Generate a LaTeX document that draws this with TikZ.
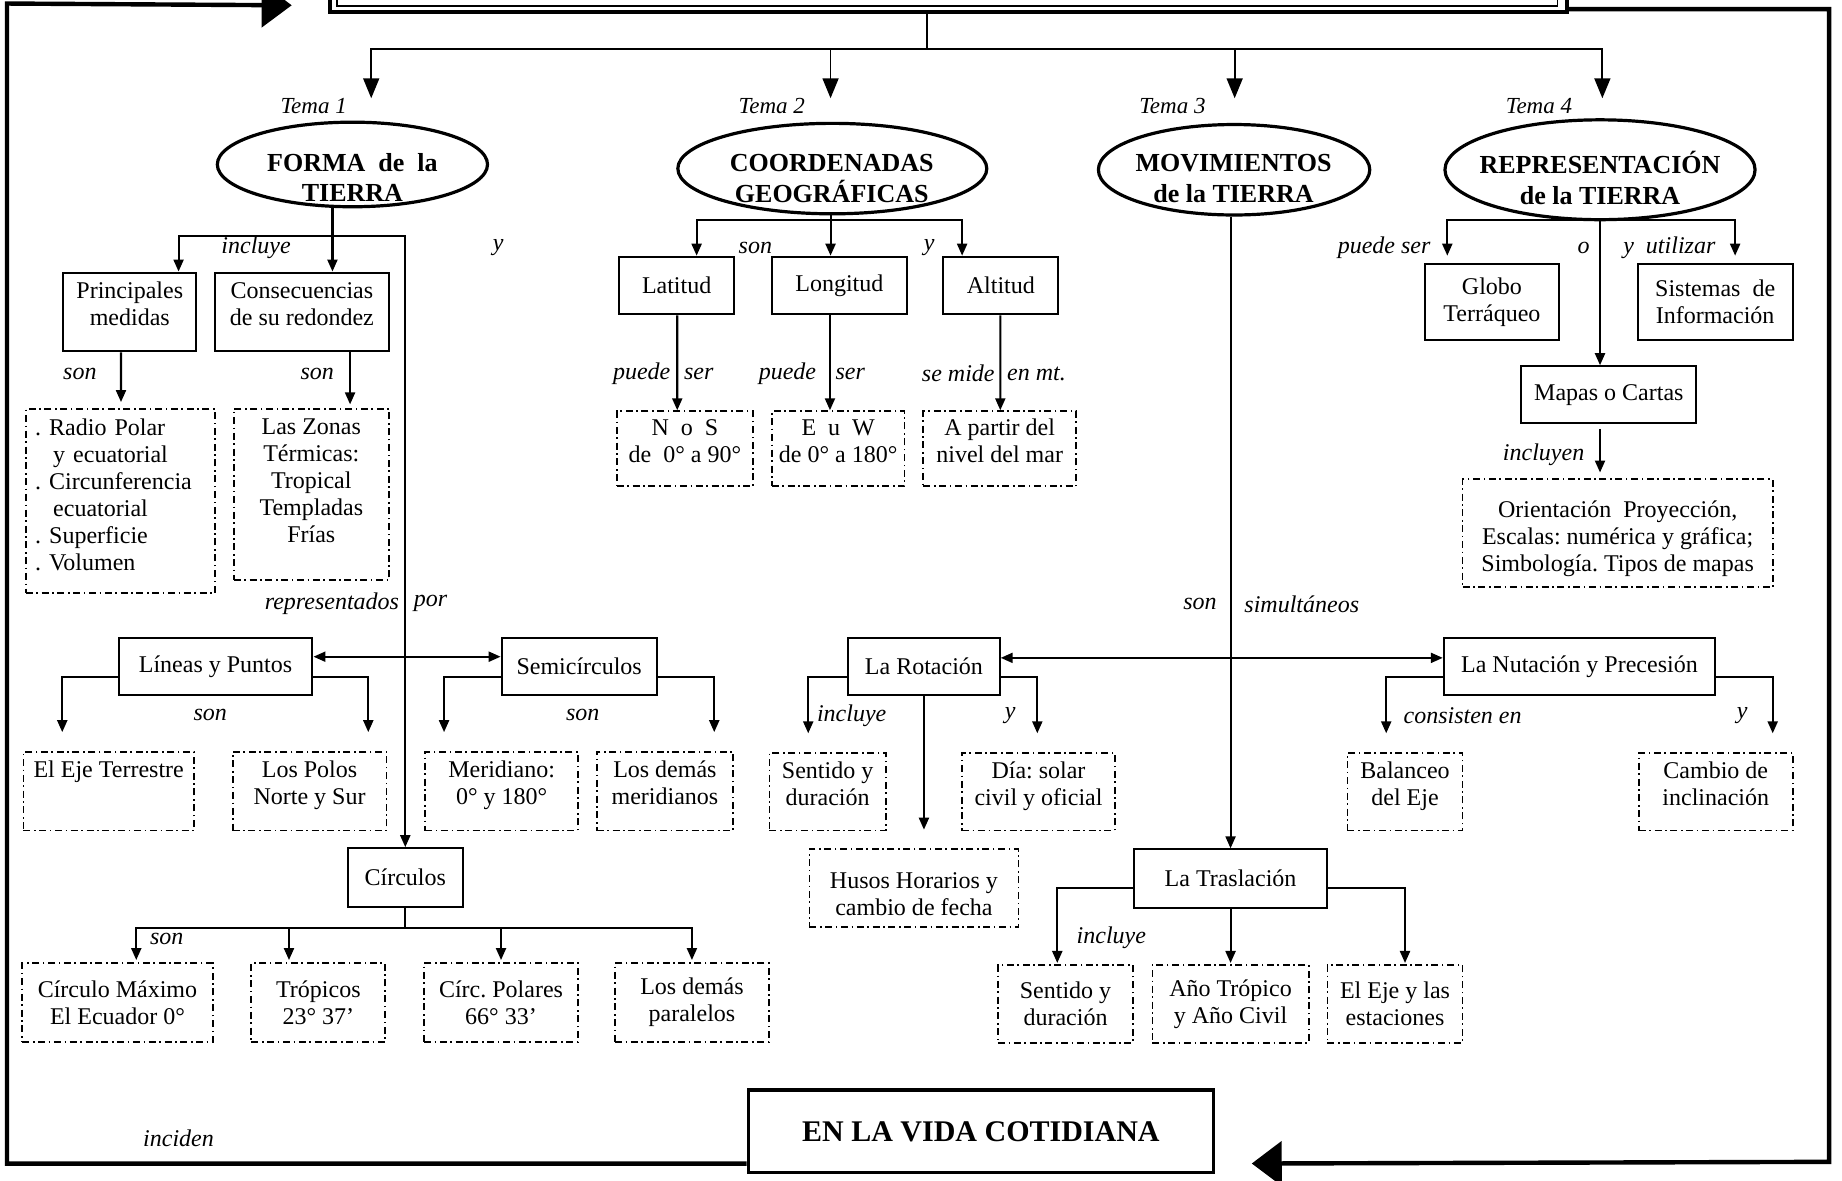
\documentclass[tikz,border=0pt]{standalone}
\usepackage{fontspec}
\setmainfont{Liberation Serif}
\usetikzlibrary{arrows.meta,shapes.geometric,calc}
\newcommand\pxu{0.58735pt}
% an empty last line lifts a text block inside its frame
\newcommand\liftup[1][-5.3pt]{\\[#1]\mbox{}}
\frenchspacing
\begin{document}
\begin{tikzpicture}[
  x=0.58735pt, y=-0.58735pt,
  line join=miter,
  sz/.style 2 args={minimum width={#1*\pxu}, minimum height={#2*\pxu}},
  cbox/.style={draw, line width=1pt, rectangle, align=center, inner sep=1pt,
               font=\fontsize{12}{13.5}\selectfont},
  dbox/.style={cbox, line width=0.9pt, dash pattern=on 3.5pt off 1.8pt on 0.8pt off 1.8pt},
  oval/.style={ellipse, draw, line width=1.6pt, inner sep=0pt},
  ovaltext/.style={align=center, inner sep=0pt, font=\fontsize{13}{15.3}\selectfont\bfseries},
  lbl/.style={inner sep=0pt, font=\fontsize{12}{14}\selectfont\itshape},
  tlbl/.style={inner sep=0pt, font=\fontsize{11.5}{14}\selectfont\itshape},
  conn/.style={line width=1.05pt},
  arr/.style={conn, -{Triangle[length=6pt,width=5pt]}},
  dblarr/.style={conn, {Triangle[length=6pt,width=5pt]}-{Triangle[length=6pt,width=5pt]}},
  tarr/.style={line width=0.9pt, -{Triangle[length=10pt,width=8pt]}},
  gap/.style={shorten >={#1*\pxu}},
  loopline/.style={line width=2.2pt, -{Triangle[length=15pt,width=22pt]}},
]
\useasboundingbox (0,0) rectangle (1568,1005);

% ---------- title frame (runs off the top edge) ----------
\node[draw, line width=2pt, inner sep=0pt, sz={1053}{50}] (title) at (807.5,-15) {};
\draw[line width=0.8pt] ($(title.south west)+(7.5,-6.5)$) rectangle ($(title.north east)+(-10,6.5)$);

% ---------- the four themes ----------
\node[tlbl] (tema1) at (267,90) {Tema 1};
\node[tlbl] (tema2) at (657,90) {Tema 2};
\node[tlbl] (tema3) at (998,90) {Tema 3};
\node[tlbl] (tema4) at (1310,90) {Tema 4};

\node[oval, sz={230}{72}] (forma) at (300,140) {};
\node[ovaltext] (formatxt) at (300,151) {FORMA\ \ de\ \ la\\TIERRA};
\node[oval, sz={263}{77}] (coord) at (708.5,143.5) {};
\node[ovaltext] (coordtxt) at (708,152) {COORDENADAS\\GEOGRÁFICAS};
\node[oval, sz={231}{77}] (mov) at (1050.5,144.5) {};
\node[ovaltext] (movtxt) at (1050,152) {MOVIMIENTOS\\de la TIERRA};
\node[oval, sz={264}{85}] (rep) at (1362,144.5) {};
\node[ovaltext] (reptxt) at (1362,151.5) {REPRESENTACIÓN\\de la TIERRA};

\draw[line width=0.9pt] ($(title.south)+(-18.5,0)$) -- ++(0,30) coordinate (hub);
\draw[tarr, gap=19] (hub) -| ($(forma.north)+(16,0)$);
\draw[tarr, gap=20] (hub) -| ($(coord.north)+(-1.5,0)$);
\draw[tarr, gap=21] (hub) -| ($(mov.north)+(0.5,0)$);
\draw[tarr, gap=17] (hub) -| ($(rep.north)+(2,0)$);

% ---------- Tema 1: forma de la Tierra ----------
\node[cbox, sz={113}{67}] (ppal) at (110.5,265.5) {Principales\\medidas\liftup};
\node[cbox, sz={148}{67}] (cons) at (257,265.5) {Consecuencias\\de su redondez\liftup};
\node[dbox, sz={161}{157}, text width={145*\pxu}, inner xsep={8*\pxu}, align=left] (radio) at (102.5,426.5)
  {. Radio Polar\\\hspace*{0.75em}y ecuatorial\\. Circunferencia\\\hspace*{0.75em}ecuatorial\\. Superficie\\. Volumen\liftup[-7pt]};
\node[dbox, sz={132}{146}] (zonas) at (265,421) {Las Zonas\\Térmicas:\\Tropical\\Templadas\\Frías\liftup[0pt]};

\node[cbox, sz={165}{49}] (lyp) at (183.5,567.5) {Líneas y Puntos};
\node[cbox, sz={132}{49}] (semi) at (493,567.5) {Semicírculos};
\node[dbox, sz={145}{67}] (eje) at (92.5,673.5) {El Eje Terrestre\\\phantom{Norte}\liftup};
\node[dbox, sz={131}{67}] (polos) at (263.5,673.5) {Los Polos\\Norte y Sur\liftup};
\node[dbox, sz={130}{67}] (merid) at (427,673.5) {Meridiano:\\0° y 180°\liftup};
\node[dbox, sz={116}{67}] (demasm) at (566,673.5) {Los demás\\meridianos\liftup};

\node[cbox, sz={98}{50}] (circ) at (345,747) {Círculos};
\node[dbox, sz={162}{67}] (cmax) at (100,853.5) {Círculo Máximo\\El Ecuador 0°};
\node[dbox, sz={114}{67}] (trop) at (271,853.5) {Trópicos\\23° 37'};
\node[dbox, sz={131}{67}] (cpol) at (426.5,853.5) {Círc. Polares\\66° 33'};
\node[dbox, sz={131}{67}] (demasp) at (589,853.5) {Los demás\\paralelos};

\draw[arr] ($(forma.south)+(-17,0)$) -- ($(cons.north)+(26,0)$);
\draw[dblarr] ($(ppal.north)+(41.5,0)$) |- ($(circ.north)+(0,-520)$) -- (circ.north);
\draw[arr, gap=5] ($(ppal.south)+(-7.5,0)$) -- ($(radio.north)+(0.5,0)$);
\draw[arr, gap=3] ($(cons.south)+(41,0)$) -- ($(zonas.north)+(33,0)$);
\draw[dblarr] ($(lyp.east)+(0,-8.5)$) -- ($(semi.west)+(0,-8.5)$);
\draw[arr, gap=16] ($(lyp.west)+(0,8.5)$) -| ($(eje.north)+(-39.5,0)$);
\draw[arr, gap=16] ($(lyp.east)+(0,8.5)$) -| ($(polos.north)+(50,0)$);
\draw[arr, gap=16] ($(semi.west)+(0,8.5)$) -| ($(merid.north)+(-49,0)$);
\draw[arr, gap=16] ($(semi.east)+(0,8.5)$) -| ($(demasm.north)+(42,0)$);
\draw[conn] (circ.south) -- ++(0,17) coordinate (cbar);
\draw[arr, gap=2] (cbar) -| ($(cmax.north)+(16,0)$);
\draw[arr, gap=2] (cbar) -| ($(trop.north)+(-25,0)$);
\draw[arr, gap=2] (cbar) -| (cpol.north);
\draw[arr, gap=2] (cbar) -| (demasp.north);

\node[lbl] (l-incl1) at (218,211) {incluye};
\node[lbl] (l-y1) at (424,211) {y};
\node[lbl] (l-son1) at (68,318) {son};
\node[lbl] (l-son2) at (270,318) {son};
\node[lbl, anchor=east] (l-repr) at (340,514) {representados};
\node[lbl, anchor=west] (l-por) at (352,514) {por};
\node[lbl] (l-son3) at (179,609) {son};
\node[lbl] (l-son4) at (496,609) {son};
\node[lbl] (l-son5) at (142,799) {son};

% ---------- Tema 2: coordenadas geograficas ----------
\node[cbox, sz={98}{49}] (lat) at (576,243) {Latitud};
\node[cbox, sz={115}{49}] (lon) at (714.5,243) {Longitud};
\node[cbox, sz={98}{49}] (alt) at (852,243) {Altitud};
\node[dbox, sz={116}{64}] (ns) at (583,382) {N\ \ o\ \ S\\de\ \ 0° a 90°\liftup[-5.8pt]};
\node[dbox, sz={113}{64}] (ew) at (713.5,382) {E\ \ u\ \ W\\de 0° a 180°\liftup[-5.8pt]};
\node[dbox, sz={130}{64}] (nivel) at (851,382) {A partir del\\nivel del mar\liftup[-5.8pt]};

\draw[arr] ($(coord.south)+(-1.5,0)$) -- ($(lon.north)+(-7.5,0)$);
\draw[arr] ($(coord.south)+(-1.5,4)$) -| ($(lat.north)+(17,0)$);
\draw[arr] ($(coord.south)+(-1.5,4)$) -| ($(alt.north)+(-33,0)$);
\draw[arr] ($(lat.south)+(0.5,0)$) -- ($(ns.north)+(-6.5,0)$);
\draw[arr] ($(lon.south)+(-8,0)$) -- ($(ew.north)+(-7,0)$);
\draw[arr] ($(alt.south)+(-0.5,0)$) -- ($(nivel.north)+(0.5,0)$);

\node[lbl] (l-son6) at (643,211) {son};
\node[lbl] (l-y2) at (791,211) {y};
\node[lbl, anchor=east] (l-pu1) at (571,318) {puede};
\node[lbl, anchor=west] (l-se1) at (582,318) {ser};
\node[lbl, anchor=east] (l-pu2) at (695,318) {puede};
\node[lbl, anchor=west] (l-se2) at (711,318) {ser};
\node[lbl, anchor=east] (l-mide) at (847,318) {se mide};
\node[lbl, anchor=west] (l-mt) at (857,318) {en mt.};

% ---------- Tema 3: movimientos de la Tierra ----------
\node[cbox, sz={129}{49}] (rot) at (786.5,567.5) {La Rotación};
\node[cbox, sz={231}{49}] (nut) at (1344.5,567.5) {La Nutación y Precesión};
\node[dbox, sz={99}{66}] (sent1) at (704.5,674) {Sentido y\\duración\liftup};
\node[dbox, sz={130}{66}] (dia) at (884,674) {Día: solar\\civil y oficial\liftup};
\node[dbox, sz={178}{66}] (husos) at (778,756) {\mbox{}\\Husos Horarios y\\cambio de fecha};
\node[dbox, sz={98}{66}] (bal) at (1196,674) {Balanceo\\del Eje\liftup};
\node[dbox, sz={131}{66}] (camb) at (1460.5,674) {Cambio de\\inclinación\liftup};
\node[cbox, sz={165}{50}] (tras) at (1047.5,748) {La Traslación};
\node[dbox, sz={115}{66}] (sent2) at (907,854.5) {Sentido y\\duración};
\node[dbox, sz={133}{66}] (anio) at (1047.5,854.5) {Año Trópico\\y Año Civil};
\node[dbox, sz={115}{66}] (ejeest) at (1187.5,854.5) {El Eje y las\\estaciones};

\draw[arr] ($(mov.south)+(-3,0)$) -- (tras.north);
\draw[dblarr] ($(rot.east)+(0,-7.5)$) -- ($(nut.west)+(0,-7.5)$);
\draw[arr, gap=16] ($(rot.west)+(0,8.5)$) -| ($(sent1.north)+(-16.5,0)$);
\draw[arr, gap=16] (rot.south) -- ($(husos.north)+(8.5,0)$);
\draw[arr, gap=16] ($(rot.east)+(0,8.5)$) -| ($(dia.north)+(-1,0)$);
\draw[arr, gap=16] ($(nut.west)+(0,8.5)$) -| ($(bal.north)+(-16,0)$);
\draw[arr, gap=16] ($(nut.east)+(0,8.5)$) -| ($(camb.north)+(48.5,0)$);
\draw[arr, gap=1] ($(tras.west)+(0,8)$) -| ($(sent2.north)+(-7,0)$);
\draw[arr, gap=1] (tras.south) -- (anio.north);
\draw[arr, gap=1] ($(tras.east)+(0,8)$) -| ($(ejeest.north)+(8.5,0)$);

\node[lbl, anchor=east] (l-son7) at (1036,514) {son};
\node[lbl, anchor=west] (l-simul) at (1059,514) {simultáneos};
\node[lbl] (l-incl2) at (725,609) {incluye};
\node[lbl] (l-y3) at (860,609) {y};
\node[lbl] (l-cons) at (1245,609) {consisten en};
\node[lbl] (l-y4) at (1483,609) {y};
\node[lbl] (l-incl3) at (946,798) {incluye};

% ---------- Tema 4: representacion de la Tierra ----------
\node[cbox, sz={114}{64}] (globo) at (1270,257) {Globo\\Terráqueo};
\node[cbox, sz={132}{64}] (sist) at (1460,257) {Sistemas\ \ de\\Información};
\node[cbox, sz={149}{48.5}] (mapas) at (1369.5,336) {Mapas o Cartas};
\node[dbox, sz={264}{92}] (orient) at (1377,454)
  {\mbox{}\\Orientación\ \ Proyección,\\Escalas: numérica y gráfica;\\Simbología. Tipos de mapas};

\draw[arr] (rep.south) -- ($(mapas.north)+(-7.5,0)$);
\draw[arr, gap=6.5] ($(rep.south)+(0,-1)$) -| ($(globo.north)+(-38,0)$);
\draw[arr, gap=6.5] ($(rep.south)+(0,-1)$) -| ($(sist.north)+(17,0)$);
\draw[arr, gap=5, shorten <={4*\pxu}] ($(mapas.south)+(-7.5,0)$) -- ($(orient.north)+(-15,0)$);

\node[lbl, anchor=east] (l-pser) at (1218,211) {puede ser};
\node[lbl] (l-o) at (1348,211) {o};
\node[lbl] (l-util) at (1421,211) {y\ \ utilizar};
\node[lbl] (l-inclu) at (1314,387) {incluyen};

% ---------- everyday life and the loop back ----------
\node[draw, line width=1.8pt, inner sep=0pt, sz={396}{70},
      font=\fontsize{15}{18}\selectfont\bfseries] (vida) at (835,963) {EN LA VIDA COTIDIANA};
\node[lbl] (l-inc) at (152,969) {inciden};

\coordinate (cornerL) at (6,3);
\coordinate (cornerR) at (1557,989);
\draw[loopline, shorten >={31*\pxu}] ($(vida.south west)+(0,-9)$) -| (cornerL) -- ($(title.south west)+(0,-7)$);
\draw[loopline, shorten >={31*\pxu}] ($(title.south east)+(0,-4)$) -| (cornerR) -- ($(vida.south east)+(0,-9)$);

\end{tikzpicture}
\end{document}
